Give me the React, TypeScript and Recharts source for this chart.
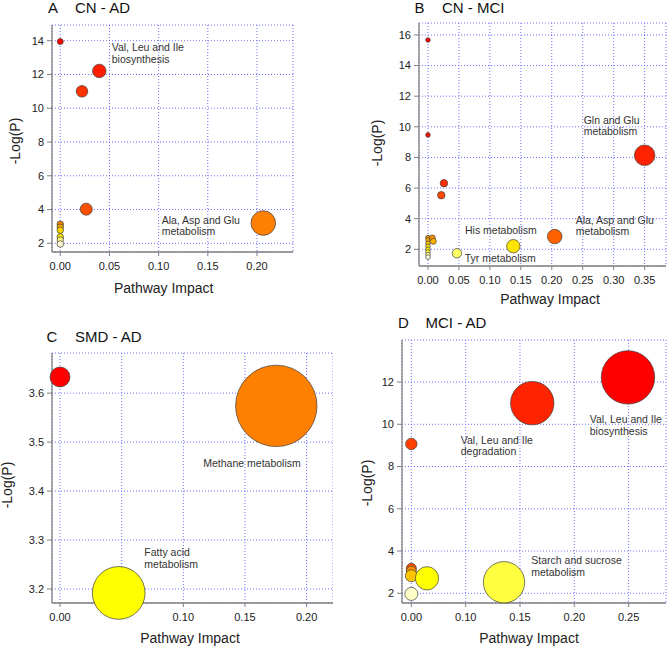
import React from 'react'
import {
  CartesianGrid,
  Cell,
  ReferenceDot,
  Scatter,
  ScatterChart,
  XAxis,
  YAxis,
  ZAxis,
} from 'recharts'

// A  CN - AD
const impactA = [0, 0.0397, 0.0221, 0.0264, 0.2064, 0, 0, 0, 0, 0, 0]
const logPA = [13.95, 12.21, 11.0, 4.02, 3.2, 3.13, 2.95, 2.78, 2.38, 2.2, 1.96]
const sizeA = [6, 30, 22, 24, 100, 7, 7, 7, 7, 7, 7]
const notesA = [
  { lines: ['Val, Leu and Ile', 'biosynthesis'], x: 0.0523, y: 13.39 },
  { lines: ['Ala, Asp and Glu', 'metabolism'], x: 0.1031, y: 3.17 },
]
const xTicksA = [0, 0.05, 0.1, 0.15, 0.2]
const xLabelsA = ['0.00', '0.05', '0.10', '0.15', '0.20']
const yTicksA = [2, 4, 6, 8, 10, 12, 14]

// B  CN - MCI
const impactB = [0, 0, 0.0258, 0.0215, 0, 0, 0, 0, 0, 0, 0, 0, 0.007, 0.0086, 0.0468, 0.1379, 0.2047, 0.35]
const logPB = [15.67, 9.47, 6.31, 5.53, 2.76, 2.61, 2.39, 2.2, 2.0, 1.83, 1.66, 1.49, 2.74, 2.52, 1.74, 2.2, 2.83, 8.14]
const sizeB = [5, 5, 13, 13, 5, 5, 5, 5, 5, 5, 5, 5, 8.5, 8.5, 21, 42, 50, 100]
const notesB = [
  { lines: ['Gln and Glu', 'metabolism'], x: 0.2515, y: 10.21 },
  { lines: ['Ala, Asp and Glu', 'metabolism'], x: 0.2386, y: 3.67 },
  { lines: ['His metabolism'], x: 0.0598, y: 3.02 },
  { lines: ['Tyr metabolism'], x: 0.0593, y: 1.17 },
]
const xTicksB = [0, 0.05, 0.1, 0.15, 0.2, 0.25, 0.3, 0.35]
const xLabelsB = ['0.00', '0.05', '0.10', '0.15', '0.20', '0.25', '0.30', '0.35']
const yTicksB = [2, 4, 6, 8, 10, 12, 14, 16]

// C  SMD - AD
const impactC = [0, 0.1754, 0.0476]
const logPC = [3.633, 3.574, 3.192]
const sizeC = [6, 100, 42]
const notesC = [
  { lines: ['Methane metabolism'], x: 0.1162, y: 3.449 },
  { lines: ['Fatty acid', 'metabolism'], x: 0.0684, y: 3.2673 },
]
const xTicksC = [0, 0.05, 0.1, 0.15, 0.2]
const xLabelsC = ['0.00', '', '0.10', '0.15', '0.20']
const yTicksC = [3.2, 3.3, 3.4, 3.5, 3.6]

// D  MCI - AD
const impactD = [0, 0, 0, 0, 0.0144, 0.0853, 0.1113, 0.1994, 0]
const logPD = [3.18, 3.05, 2.83, 1.97, 2.71, 2.52, 11.0, 12.22, 9.07]
const sizeD = [3.5, 3.5, 5, 6, 19, 60, 66, 100, 4.6]
const notesD = [
  { lines: ['Val, Leu and Ile', 'biosynthesis'], x: 0.1642, y: 10.07 },
  { lines: ['Val, Leu and Ile', 'degradation'], x: 0.0455, y: 9.08 },
  { lines: ['Starch and sucrose', 'metabolism'], x: 0.1104, y: 3.37 },
]
const xTicksD = [0, 0.05, 0.1, 0.15, 0.2]
const xLabelsD = ['0.00', '0.10', '0.15', '0.20', '0.25']
const yTicksD = [2, 4, 6, 8, 10, 12]

const FONT = "'Liberation Sans', Arial, Helvetica, sans-serif"

// heat colours, one per point
const fillsA = ['#ff0000', '#ff1e00', '#ff3300', '#ff5000', '#ff7f00', '#f08a00', '#ffa800', '#ffd400', '#ffe800', '#fff27a', '#fffbd0']
const fillsB = ['#ff0000', '#ff1000', '#ff3000', '#ff4800', '#ff9500', '#ffa800', '#ffc800', '#ffe000', '#fff000', '#ffff40', '#ffff99', '#ffffe0', '#ff9000', '#ffb000', '#ffff66', '#ffe600', '#ff6000', '#ff2200']
const fillsC = ['#ff0000', '#ff8000', '#ffff00']
const fillsD = ['#ff5000', '#ff9000', '#ffc400', '#ffffc8', '#ffff00', '#ffff40', '#ff2400', '#ff0000', '#ff4000']

type Note = { lines: string[]; x: number; y: number }

type PanelProps = {
  left: number
  top: number
  width: number
  height: number
  yAxisWidth: number
  marginTop: number
  marginRight: number
  xAxisHeight: number
  xDomain: [number, number]
  yDomain: [number, number]
  xTicks: number[]
  xLabels: string[]
  yTicks: number[]
  yDigits: number
  impact: number[]
  logP: number[]
  size: number[]
  fills: string[]
  maxR: number
  notes: Note[]
  yLabelX: number
  yLabelY: number
  xLabelX: number
  xLabelY: number
}

const Panel = (p: PanelProps) => {
  const data = p.impact.map((x, i) => ({ x, y: p.logP[i], z: p.size[i] }))
  return (
    <div style={{ position: 'absolute', left: p.left, top: p.top }}>
      <ScatterChart
        width={p.width}
        height={p.height}
        margin={{ top: p.marginTop, right: p.marginRight, bottom: 0, left: 0 }}
        style={{ fontFamily: FONT }}
      >
        <CartesianGrid stroke="#6f6fff" strokeDasharray="1 2" strokeWidth={1} />
        <XAxis
          dataKey="x"
          type="number"
          domain={p.xDomain}
          ticks={p.xTicks}
          interval={0}
          height={p.xAxisHeight}
          tickFormatter={(v: number) => p.xLabels[p.xTicks.indexOf(v)] ?? ''}
          tick={{ fill: '#222', fontSize: 11, fontFamily: FONT }}
          tickSize={4}
          tickMargin={6}
          axisLine={{ stroke: '#808080', strokeWidth: 1.3 }}
          tickLine={{ stroke: '#808080' }}
          label={{
            content: () => (
              <text x={p.xLabelX} y={p.xLabelY} textAnchor="middle" fontSize={14} fill="#222" fontFamily={FONT}>
                Pathway Impact
              </text>
            ),
          }}
        />
        <YAxis
          dataKey="y"
          type="number"
          domain={p.yDomain}
          ticks={p.yTicks}
          interval={0}
          width={p.yAxisWidth}
          tickFormatter={(v: number) => v.toFixed(p.yDigits)}
          tick={{ fill: '#222', fontSize: 11, fontFamily: FONT }}
          tickSize={5}
          tickMargin={3}
          axisLine={{ stroke: '#808080', strokeWidth: 1.3 }}
          tickLine={{ stroke: '#808080' }}
          label={{
            content: () => (
              <text
                x={p.yLabelX}
                y={p.yLabelY}
                transform={`rotate(-90, ${p.yLabelX}, ${p.yLabelY})`}
                textAnchor="middle"
                dominantBaseline="central"
                fontSize={14}
                fill="#222"
                fontFamily={FONT}
              >
                -Log(P)
              </text>
            ),
          }}
        />
        <ZAxis dataKey="z" type="number" domain={[0, 100]} range={[0, Math.PI * p.maxR * p.maxR]} />
        <Scatter data={data} isAnimationActive={false} stroke="#3c3c3c" strokeWidth={0.7}>
          {data.map((d, i) => (
            <Cell key={i} fill={p.fills[i]} />
          ))}
        </Scatter>
        {p.notes.map((n) => (
          <ReferenceDot
            key={n.lines[0] + n.y}
            x={n.x}
            y={n.y}
            r={0}
            shape={(s: any) => (
              <text x={s.cx} y={s.cy} fontSize={10.5} fill="#333" fontFamily={FONT}>
                {n.lines.map((line, i) => (
                  <tspan key={i} x={s.cx} dy={i === 0 ? 0 : 11.7}>
                    {line}
                  </tspan>
                ))}
              </text>
            )}
          />
        ))}
      </ScatterChart>
    </div>
  )
}

const titles = [
  { letter: 'A', name: 'CN - AD', x: 48, nx: 75, y: 12.7 },
  { letter: 'B', name: 'CN - MCI', x: 414.5, nx: 442, y: 12.7 },
  { letter: 'C', name: 'SMD - AD', x: 46.5, nx: 75, y: 341.5 },
  { letter: 'D', name: 'MCI - AD', x: 398, nx: 425.5, y: 327.5 },
]

const App = () => {
  return (
    <div style={{ position: 'absolute', left: 0, top: 0, width: 667, height: 647, background: '#fff' }}>
      <Panel
        left={0} top={0} width={333} height={320}
        yAxisWidth={52} marginTop={25} marginRight={40} xAxisHeight={68}
        xDomain={[-0.0084, 0.2366]} yDomain={[1.485, 14.93]}
        xTicks={xTicksA} xLabels={xLabelsA} yTicks={yTicksA} yDigits={0}
        impact={impactA} logP={logPA} size={sizeA} fills={fillsA} maxR={12.3}
        notes={notesA}
        yLabelX={15} yLabelY={141} xLabelX={163.7} xLabelY={293.3}
      />
      <Panel
        left={333} top={0} width={334} height={320}
        yAxisWidth={86} marginTop={23} marginRight={1} xAxisHeight={54}
        xDomain={[-0.0145, 0.3845]} yDomain={[0.909, 16.78]}
        xTicks={xTicksB} xLabels={xLabelsB} yTicks={yTicksB} yDigits={0}
        impact={impactB} logP={logPB} size={sizeB} fills={fillsB} maxR={10.3}
        notes={notesB}
        yLabelX={44} yLabelY={143} xLabelX={217} xLabelY={303.7}
      />
      <Panel
        left={0} top={320} width={333} height={327}
        yAxisWidth={52} marginTop={33} marginRight={0} xAxisHeight={44}
        xDomain={[-0.0065, 0.2214]} yDomain={[3.1714, 3.682]}
        xTicks={xTicksC} xLabels={xLabelsC} yTicks={yTicksC} yDigits={1}
        impact={impactC} logP={logPC} size={sizeC} fills={fillsC} maxR={40.7}
        notes={notesC}
        yLabelX={6.7} yLabelY={165} xLabelX={190} xLabelY={323}
      />
      <Panel
        left={333} top={320} width={334} height={327}
        yAxisWidth={69} marginTop={20} marginRight={1} xAxisHeight={44}
        xDomain={[-0.0086, 0.2344]} yDomain={[1.54, 13.99]}
        xTicks={xTicksD} xLabels={xLabelsD} yTicks={yTicksD} yDigits={0}
        impact={impactD} logP={logPD} size={sizeD} fills={fillsD} maxR={26.7}
        notes={notesD}
        yLabelX={33.5} yLabelY={163} xLabelX={196} xLabelY={323.3}
      />
      <svg width={667} height={647} style={{ position: 'absolute', left: 0, top: 0, pointerEvents: 'none' }}>
        {titles.map((t) => (
          <g key={t.letter} fontFamily={FONT} fontSize={15} fill="#111">
            <text x={t.x} y={t.y}>{t.letter}</text>
            <text x={t.nx} y={t.y}>{t.name}</text>
          </g>
        ))}
      </svg>
    </div>
  )
}

export default App
